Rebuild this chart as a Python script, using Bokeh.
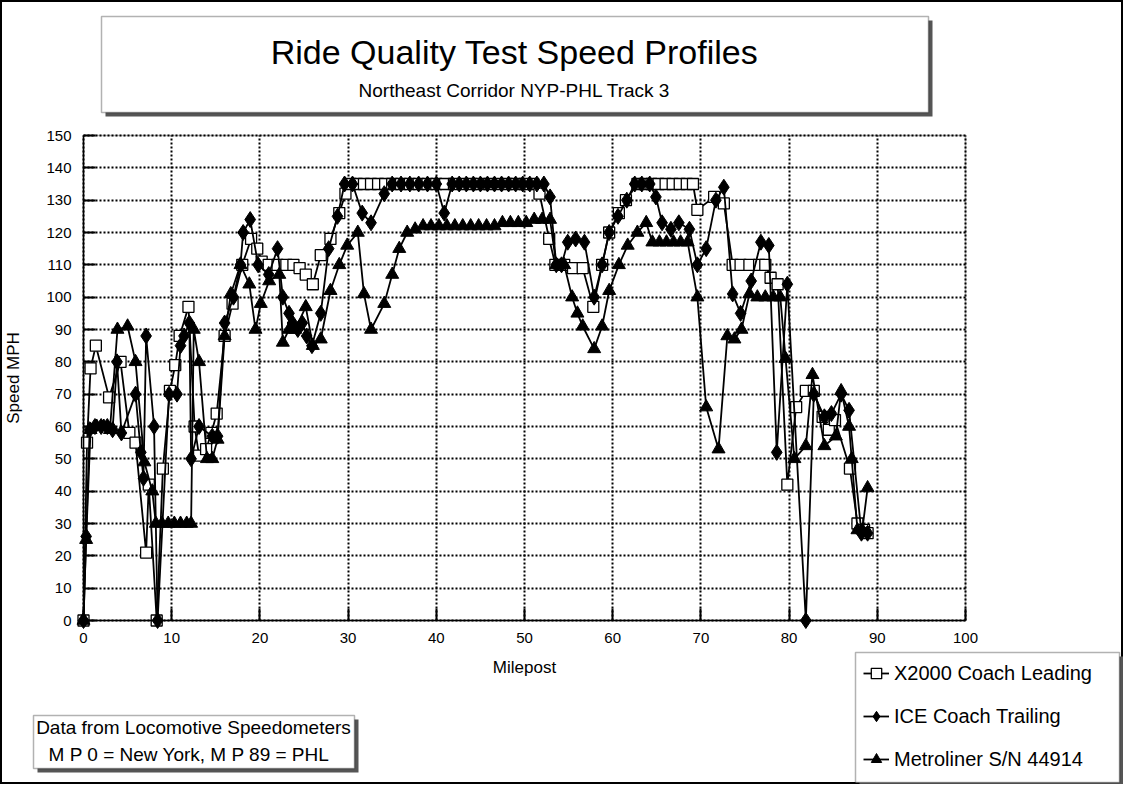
from bokeh.plotting import figure
from bokeh.models import (Range1d, BoxAnnotation, Label, Legend, LegendItem, FixedTicker,
                          LinearAxis, Grid)
from bokeh.embed import file_html
from bokeh.resources import INLINE

FONT = "Liberation Sans"

# ---------------- data ----------------
title_text = "Ride Quality Test Speed Profiles"
subtitle_text = "Northeast Corridor NYP-PHL Track 3"
note_line1 = "Data from Locomotive Speedometers"
note_line2 = "M P  0 = New York, M P  89 = PHL"
x_label = "Milepost"
y_label = "Speed MPH"
series_names = ["X2000 Coach Leading", "ICE Coach Trailing", "Metroliner S/N 44914"]
x_ticks = [0, 10, 20, 30, 40, 50, 60, 70, 80, 90, 100]
y_ticks = [0, 10, 20, 30, 40, 50, 60, 70, 80, 90, 100, 110, 120, 130, 140, 150]

x2000_mp = [0.0, 0.4, 0.8, 1.4, 2.9, 4.2, 5.2, 5.9, 7.1, 7.4, 8.3, 9.0, 9.8, 10.4, 10.9, 11.9, 12.6, 13.1, 13.9, 14.5,
            15.1, 16.0, 16.9, 18.0, 19.0, 19.7, 20.2,
            21.0, 22.0, 23.0, 23.8, 24.5, 25.2, 26.0, 26.9, 28.0, 29.0, 29.7, 30.3, 31.0, 31.8, 32.6, 33.4,
            34.2, 35.0, 36.0, 37.0, 38.0, 39.0, 40.0, 41.0, 42.0, 43.0, 44.0, 45.0, 46.0, 47.0, 48.0, 49.0, 50.0, 51.0,
            51.7, 52.8, 53.5, 54.5, 55.5, 56.6, 57.8, 58.8, 59.6, 60.7, 61.5, 62.8, 63.6, 64.4, 65.2, 66.0, 66.8, 67.6,
            68.4, 69.1,
            69.6, 71.5, 72.6, 73.6, 74.5, 75.5, 76.6, 77.3, 77.9, 78.7, 79.8, 80.8, 81.9, 82.8, 83.8, 84.5, 85.2, 86.9,
            87.75, 88.5, 88.9]
x2000_mph = [0, 55, 78, 85, 69, 80, 58, 55, 21, 42, 0, 47, 71, 79, 88, 97, 60, 51, 53, 58,
             64, 88, 98, 110, 118, 115, 111,
             110, 110, 110, 110, 109, 107, 104, 113, 118, 126, 132, 135, 135, 135, 135, 135,
             135, 135, 135, 135, 135, 135, 135, 135, 135, 135, 135, 135, 135, 135, 135, 135, 135, 135,
             132, 118, 110, 110, 109, 109, 97, 110, 120, 126, 130, 135, 135, 135, 135, 135, 135, 135,
             135, 135,
             127, 131, 129, 110, 110, 110, 110, 110, 106, 104, 42, 66, 71, 71, 63, 59, 62, 47,
             30, 28, 27]

ice_mp = [0.0, 0.3, 0.7, 1.3, 2.0, 2.7, 3.3, 3.8, 4.3, 5.9, 6.5, 6.8, 7.1, 8.0, 8.4, 9.7, 10.6, 11.0, 11.4, 12.0,
          12.2, 13.1, 14.6, 15.2, 16.0,
          17.0, 17.8, 18.1, 18.9, 19.8, 21.0, 22.0, 22.6, 23.3, 23.7, 24.3, 24.8, 25.3, 25.9, 26.9, 27.8, 28.8, 29.6,
          30.5, 31.6, 32.6, 34.1, 35.0, 36.0, 37.0, 38.0, 39.0, 40.0, 40.9, 41.8, 42.6, 43.4, 44.2, 45.0, 45.8, 46.6,
          47.4, 48.2, 49.0, 49.8, 50.6, 51.4, 52.2, 52.9,
          53.6, 54.2, 54.9, 55.8, 56.8, 57.9, 58.8, 59.6, 60.6, 61.6, 62.5, 63.3, 64.2, 64.9, 65.6, 66.6, 67.5, 68.7,
          69.6, 70.6, 71.7, 72.6, 73.6, 74.5, 75.7, 76.8, 77.7, 78.6, 79.8, 81.9, 82.8, 84.0, 84.8, 85.9, 86.8, 88.2,
          88.9]
ice_mph = [0, 26, 59, 60, 60, 60, 59, 80, 58, 70, 52, 44, 88, 60, 0, 70, 70, 85, 88, 92,
           50, 60, 57, 57, 92,
           100, 110, 120, 124, 110, 107, 115, 100, 95, 92, 90, 92, 88, 85, 95, 115, 125, 135,
           135, 126, 123, 132, 135, 135, 135, 135, 135, 135, 126, 135, 135, 135, 135, 135, 135, 135,
           135, 135, 135, 135, 135, 135, 135, 131,
           110, 110, 117, 118, 117, 100, 110, 120, 125, 130, 135, 135, 135, 131, 123, 121, 123, 121,
           110, 115, 130, 134, 101, 95, 105, 117, 116, 52, 104, 0, 70, 63, 64, 70, 65, 27,
           27]

metro_mp = [0.0, 0.3, 0.8, 1.5, 2.3, 3.0, 3.85, 5.0, 5.9, 6.9, 7.8, 8.2, 8.9, 9.6, 10.3, 11.0, 11.7, 12.2, 12.5, 13.1,
            14.0, 14.6, 15.2, 16.0, 16.7, 17.8, 18.8, 19.5, 20.1, 21.05, 22.2, 22.6, 23.3, 24.0, 25.2, 26.0, 26.9,
            28.0, 29.0, 29.9, 31.1, 31.8, 32.6,
            34.1, 35.0, 35.8, 36.7, 37.6, 38.5, 39.4, 40.3, 41.2, 42.1, 43.0, 43.9, 44.8, 45.7, 46.6, 47.5, 48.4,
            49.3, 50.2, 51.1, 52.0, 52.9,
            53.6, 54.5, 55.4, 56.0, 56.6, 57.9, 58.8, 59.6, 60.7, 61.7, 62.8, 63.8, 64.5, 65.3, 66.1, 66.9, 67.7, 68.5,
            69.6, 70.6, 72.0, 73.0, 73.8, 74.6, 75.5, 76.4, 77.3, 78.2, 79.0, 79.6, 80.6, 81.9, 82.65, 84.0, 85.3,
            85.9, 86.8, 87.1, 87.75, 88.3, 88.9]
metro_mph = [0, 25, 59, 60, 60, 59, 90, 91, 80, 49, 40, 30, 30, 30, 30, 30, 30, 30, 90, 80,
             50, 50, 56, 88, 101, 110, 104, 90, 98, 105, 107, 86, 90, 90, 97, 85, 87,
             102, 110, 116, 120, 101, 90,
             98, 107, 115, 120, 121, 122, 122, 122, 122, 122, 122, 122, 122, 122, 122, 123, 123,
             123, 123, 124, 124, 124,
             110, 110, 100, 95, 91, 84, 91, 102, 110, 116, 120, 123, 117, 117, 117, 117, 117, 117,
             100, 66, 53, 88, 87, 90, 101, 100, 100, 100, 100, 81, 50, 54, 76, 54, 57,
             71, 60, 50, 28, 28, 41]

# ---------------- layout constants (pixels) ----------------
W, H = 1123, 784
PX_X0, PX_X100 = 83, 965        # canvas x of milepost 0 and 100
PX_Y0, PX_Y150 = 620, 135       # canvas y of 0 and 150 mph
sx_per = (PX_X100 - PX_X0) / 100.0
sy_per = (PX_Y0 - PX_Y150) / 150.0
xr = Range1d(-PX_X0 / sx_per, 100 + (W - PX_X100) / sx_per)
yr = Range1d(-(H - PX_Y0) / sy_per, 150 + PX_Y150 / sy_per)

p = figure(width=W, height=H, output_backend="svg", toolbar_location=None,
           x_range=xr, y_range=yr, x_axis_location=None, y_axis_location=None,
           min_border=0, background_fill_color="white", border_fill_color="white")
p.outline_line_color = "black"
p.outline_line_width = 3
# hide any default grids the figure created
for g in list(p.grid):
    g.visible = False

xaxis = LinearAxis(fixed_location=0, bounds=(0, 100), ticker=FixedTicker(ticks=x_ticks),
                   axis_label=x_label)
yaxis = LinearAxis(fixed_location=0, bounds=(0, 150), ticker=FixedTicker(ticks=y_ticks),
                   axis_label=y_label)
for ax in (xaxis, yaxis):
    ax.axis_line_color = "black"
    ax.axis_line_width = 1.5
    ax.major_tick_in = 12
    ax.major_tick_out = 0
    ax.major_tick_line_width = 2
    ax.major_tick_line_color = "black"
    ax.minor_tick_line_color = None
    ax.major_label_text_font = FONT
    ax.major_label_text_font_size = "15px"
    ax.major_label_text_color = "black"
    ax.major_label_standoff = 12
    ax.axis_label_text_font = FONT
    ax.axis_label_text_font_size = "17px"
    ax.axis_label_text_font_style = "normal"
    ax.axis_label_text_color = "black"
xaxis.axis_label_standoff = 12
yaxis.axis_label_standoff = 20
p.add_layout(xaxis, "below")
p.add_layout(yaxis, "left")

xgrid = Grid(dimension=0, ticker=FixedTicker(ticks=x_ticks), bounds=(0, 100), cross_bounds=(0, 150))
ygrid = Grid(dimension=1, ticker=FixedTicker(ticks=y_ticks), bounds=(0, 150), cross_bounds=(0, 100))
for g in (xgrid, ygrid):
    g.grid_line_color = "black"
    g.grid_line_dash = "2 2"
    g.grid_line_width = 2
    p.add_layout(g)

# plot-area border
p.add_layout(BoxAnnotation(left=0, right=100, bottom=0, top=150, fill_color=None,
                           line_color="black", line_width=1.5))

# ---------------- decorations (screen units: x from left, y from bottom of canvas) ----------------
def box(left, right, top, bottom, fill="white", line="black", lw=1.5):
    b = BoxAnnotation(left=left, right=right, top=top, bottom=bottom,
                      left_units="screen", right_units="screen",
                      top_units="screen", bottom_units="screen",
                      fill_color=fill, fill_alpha=1.0,
                      line_color=line, line_width=lw)
    p.add_layout(b)
    return b

def label(x, y, text, size, baseline="middle"):
    p.add_layout(Label(x=x, y=y, x_units="screen", y_units="screen", text=text,
                       text_align="center", text_baseline=baseline, text_font=FONT,
                       text_font_size=size, text_color="black"))

# title box with shadow
box(105, 932, 764, 668, fill="#555555", line=None)
box(101, 928, 768, 672)
label(514, 733, title_text, "34px", "alphabetic")
label(514, 694, subtitle_text, "19px", "alphabetic")

# note box with shadow
box(37, 358, 65, 12, fill="#555555", line=None)
box(33, 354, 69, 16)
label(193, 57, note_line1, "19px")
label(194, 30, note_line2, "19px")

# legend box with shadow
box(859, 1123, 128, -2, fill="#555555", line=None)
box(855, 1119, 132, 2)

# ---------------- series ----------------
r1l = p.line(x2000_mp, x2000_mph, line_color="black", line_width=1.8)
r1m = p.scatter(x2000_mp, x2000_mph, marker="square", size=11, fill_color="white",
                line_color="black", line_width=1.3)
r2l = p.line(ice_mp, ice_mph, line_color="black", line_width=1.8)
r2m = p.scatter(ice_mp, ice_mph, marker="diamond", size=16, fill_color="black", line_color="black")
r3l = p.line(metro_mp, metro_mph, line_color="black", line_width=1.8)
r3m = p.scatter(metro_mp, metro_mph, marker="triangle", size=13, fill_color="black", line_color="black")

legend = Legend(items=[LegendItem(label=series_names[0], renderers=[r1l, r1m]),
                       LegendItem(label=series_names[1], renderers=[r2l, r2m]),
                       LegendItem(label=series_names[2], renderers=[r3l, r3m])],
                location=(855, 4), margin=0, padding=8, spacing=17,
                glyph_width=26, glyph_height=26, label_height=26, label_standoff=5,
                label_text_font=FONT, label_text_font_size="20px", label_text_color="black",
                border_line_alpha=0.0, background_fill_alpha=0.0)
p.add_layout(legend)

open("out.html", "w").write(file_html(p, INLINE))
